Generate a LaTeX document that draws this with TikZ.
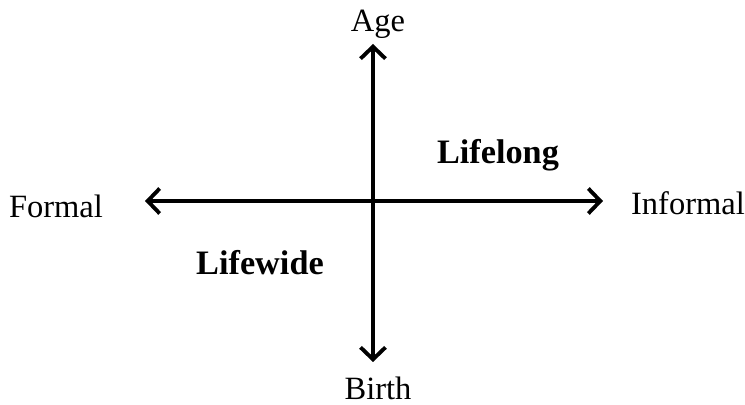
\documentclass[tikz,border=0pt]{standalone}
\usepackage{fontspec}
\setmainfont{Liberation Serif}
\usetikzlibrary{arrows.meta}

\begin{document}
\begin{tikzpicture}[x=0.02cm, y=-0.02cm]
    % Estilos
    \tikzset{
        eje/.style={line width=2pt, {Straight Barb[length=0.24cm, width=0.5cm, line width=2.2pt]}-{Straight Barb[length=0.24cm, width=0.5cm, line width=2.2pt]}},
        etiqueta/.style={font=\fontsize{18.5}{20}\selectfont, inner sep=0pt},
        zona/.style={font=\fontsize{19.5}{21}\selectfont\bfseries, inner sep=0pt}
    }
    \useasboundingbox (0,0) rectangle (745,405);

    % Extremos de los ejes
    \coordinate (arriba) at (373,44);
    \coordinate (abajo) at (373,362);
    \coordinate (izq) at (145,201);
    \coordinate (der) at (603,201);

    % Ejes
    \draw[eje] (abajo) -- (arriba);
    \draw[eje] (izq) -- (der);

    % Etiquetas de los ejes
    \node[etiqueta] (age) at (378,24) {Age};
    \node[etiqueta] (birth) at (378,388) {Birth};
    \node[etiqueta] (formal) at (56,206) {Formal};
    \node[etiqueta] (informal) at (688,203) {Informal};

    % Zonas
    \node[zona] (lifelong) at (498,155) {Lifelong};
    \node[zona] (lifewide) at (260,263) {Lifewide};
\end{tikzpicture}
\end{document}
